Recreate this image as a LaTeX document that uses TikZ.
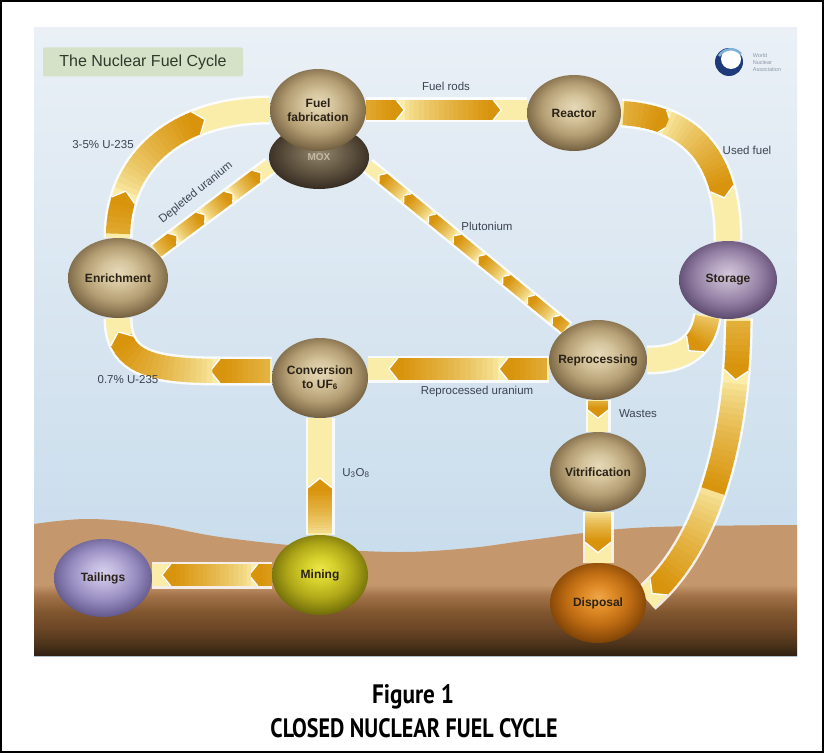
\documentclass[tikz,border=0pt]{standalone}
\usepackage{graphicx}
\usepackage{fontspec}
\setmainfont{Liberation Sans}
\newfontfamily\capfont{PT Sans}
\usetikzlibrary{shapes.geometric,decorations.markings}

\pgfdeclarelayer{scenery}
\pgfdeclarelayer{bands}
\pgfsetlayers{scenery,bands,main}

% ---------- palette ----------
\definecolor{skytop}{HTML}{EAF0F6}
\definecolor{skylow}{HTML}{C3D9EA}
\definecolor{soilA}{HTML}{2E2012}
\definecolor{soilB}{HTML}{4A3219}
\definecolor{soilC}{HTML}{6C4626}
\definecolor{soilD}{HTML}{80562F}
\definecolor{soilE}{HTML}{A27248}
\definecolor{soilF}{HTML}{C4976D}
\definecolor{bandpale}{HTML}{FAEDAA}
\definecolor{banddeep}{HTML}{D8940C}
\definecolor{labelink}{HTML}{3C4352}
\definecolor{nodeink}{HTML}{2A2216}
\definecolor{moxink}{HTML}{C4BAA6}
\definecolor{titlefill}{HTML}{D6E2C8}
\definecolor{titleink}{HTML}{2F3A2C}
\definecolor{logonavy}{HTML}{1E3A78}
\definecolor{logosky}{HTML}{7FB2DA}
\definecolor{logoink}{HTML}{8A98A8}

\definecolor{tanA}{HTML}{E6D9B8}\definecolor{tanB}{HTML}{D5C49C}\definecolor{tanC}{HTML}{B49E74}\definecolor{tanD}{HTML}{806C4A}\definecolor{tanE}{HTML}{5C4C32}
\definecolor{moxA}{HTML}{938670}\definecolor{moxB}{HTML}{796C56}\definecolor{moxC}{HTML}{5A4E3C}\definecolor{moxD}{HTML}{3C3226}\definecolor{moxE}{HTML}{2C241A}
\definecolor{lilA}{HTML}{D4C6DA}\definecolor{lilB}{HTML}{B8A8C4}\definecolor{lilC}{HTML}{927EA2}\definecolor{lilD}{HTML}{665478}\definecolor{lilE}{HTML}{4C3E5C}
\definecolor{lavA}{HTML}{D6D0EE}\definecolor{lavB}{HTML}{BDB4DC}\definecolor{lavC}{HTML}{978CC0}\definecolor{lavD}{HTML}{6C6296}\definecolor{lavE}{HTML}{524A78}
\definecolor{yelA}{HTML}{ECE64A}\definecolor{yelB}{HTML}{D6D02C}\definecolor{yelC}{HTML}{B0A818}\definecolor{yelD}{HTML}{7C780C}\definecolor{yelE}{HTML}{5E5A08}
\definecolor{orgA}{HTML}{F0A648}\definecolor{orgB}{HTML}{DE8A26}\definecolor{orgC}{HTML}{BC6A12}\definecolor{orgD}{HTML}{8A4A08}\definecolor{orgE}{HTML}{6A3806}

% ---------- shadings ----------
\pgfdeclareverticalshading{soil}{100bp}{color(0bp)=(soilA); color(25bp)=(soilA); color(29bp)=(soilB); color(35bp)=(soilC); color(41bp)=(soilD); color(47bp)=(soilE); color(51bp)=(soilF); color(100bp)=(soilF)}

\newcommand\makeorb[6]{\pgfdeclareradialshading{#1}{\pgfpoint{0bp}{4bp}}{color(0bp)=(#2); color(8bp)=(#3); color(17bp)=(#4); color(25bp)=(#5); color(29bp)=(#6); color(50bp)=(#6)}}
\makeorb{tanorb}{tanA}{tanB}{tanC}{tanD}{tanE}
\makeorb{moxorb}{moxA}{moxB}{moxC}{moxD}{moxE}
\makeorb{lilacorb}{lilA}{lilB}{lilC}{lilD}{lilE}
\makeorb{lavorb}{lavA}{lavB}{lavC}{lavD}{lavE}
\makeorb{yelloworb}{yelA}{yelB}{yelC}{yelD}{yelE}
\makeorb{orangeorb}{orgA}{orgB}{orgC}{orgD}{orgE}

% ---------- flow bands ----------
% pointed head of a segment: #1 half width
\newcommand\chevtip[1]{%
  \fill[banddeep] (-0.3,-#1) -- ({0.8*#1},0) -- (-0.3,#1) -- cycle;
  \draw[white, line width=1.3pt, line join=round] (0,-#1) -- ({0.8*#1},0) -- (0,#1);
}
% #1 band width, #2 half width, #3 shaded length, #4 head positions (pt), #5 path
\newcommand\flow[5]{%
  \draw[white, opacity=.85, line width=#1pt+5pt] #5;
  \draw[bandpale, line width=#1pt] #5;
  \foreach \d in {#4}{%
    \foreach \k in {0,...,17}{%
      \pgfmathsetmacro\slpos{\d-#3*(1-\k/18)}%
      \pgfmathtruncatemacro\slpc{100*(((\k+1)/18)^0.7)}%
      \ifdim\slpos pt>0.5pt
        \path[decorate, decoration={markings, mark=at position \slpos pt with {\fill[banddeep!\slpc!bandpale] (-0.6,-#2) -- ({#3/18+0.9},-#2) -- ({#3/18+0.9},#2) -- (-0.6,#2) -- cycle;}}] #5;
      \fi
    }%
    \path[decorate, decoration={markings, mark=at position \d pt with {\chevtip{#2}}}] #5;
  }%
}

\newcommand\orbtext[1]{\makebox[0pt]{#1}}

\tikzset{
  orb/.style={ellipse, inner sep=0pt, shade, shading=#1, font=\fontsize{12}{13.5}\selectfont\bfseries, text=nodeink, align=center},
  lbl/.style={inner sep=0pt, font=\fontsize{11.5}{13}\selectfont, text=labelink},
}

\begin{document}
\begin{tikzpicture}[x=1pt, y=-1pt]
\useasboundingbox (0,0) rectangle (826,754);

% ---------- sky and ground ----------
\begin{pgfonlayer}{scenery}
  \shade[top color=skytop, bottom color=skylow] (34,28) rectangle (797,656);
  \shade[shading=soil] plot[smooth, tension=0.6] coordinates {(34,524) (87,519) (150,524) (220,537) (320,548) (400,552) (470,548) (530,540) (620,529) (700,526) (797,525)} -- (797,656) -- (34,656) -- cycle;
\end{pgfonlayer}

% ---------- title and logo ----------
\node[fill=titlefill, rounded corners=2pt, minimum width=200pt, minimum height=29pt, font=\fontsize{16}{18}\selectfont, text=titleink] (title) at (143,62) {The Nuclear Fuel Cycle};

\fill[logonavy] (729,62) circle (14);
\fill[white] (731,59) circle (10);
\draw[logosky, line width=2.5pt] (719,56) .. controls (724,48) and (735,47) .. (741,54);
\node[inner sep=0pt, align=left, font=\fontsize{5.5}{7}\selectfont, text=logoink] (wna) at (767,63) {World\\Nuclear\\Association};

% ---------- stages ----------
\node[orb=moxorb, minimum width=100pt, minimum height=64pt, text=moxink, font=\fontsize{10}{11}\selectfont\bfseries] (mox) at (319,157) {\orbtext{MOX}};
\node[orb=tanorb, minimum width=96pt, minimum height=82pt] (fab) at (318,110) {\orbtext{Fuel}\\\orbtext{fabrication}};
\node[orb=tanorb, minimum width=94pt, minimum height=76pt] (reactor) at (574,113) {\orbtext{Reactor}};
\node[orb=lilacorb, minimum width=98pt, minimum height=78pt] (storage) at (728,280) {\orbtext{Storage}};
\node[orb=tanorb, minimum width=100pt, minimum height=80pt] (enrich) at (118,278) {\orbtext{Enrichment}};
\node[orb=tanorb, minimum width=96pt, minimum height=80pt] (conv) at (320,378) {\orbtext{Conversion}\\\orbtext{to UF\textsubscript{6}}};
\node[orb=tanorb, minimum width=98pt, minimum height=80pt] (repro) at (598,360) {\orbtext{Reprocessing}};
\node[orb=tanorb, minimum width=96pt, minimum height=80pt] (vitri) at (598,472) {\orbtext{Vitrification}};
\node[orb=orangeorb, minimum width=96pt, minimum height=80pt] (disp) at (598,603) {\orbtext{Disposal}};
\node[orb=yelloworb, minimum width=96pt, minimum height=80pt] (mining) at (320,575) {\orbtext{Mining}};
\node[orb=lavorb, minimum width=98pt, minimum height=78pt] (tail) at (103,578) {\orbtext{Tailings}};

% ---------- material flows ----------
\begin{pgfonlayer}{bands}
  \coordinate (rw) at ([yshift=-9pt]repro.west);
  \coordinate (cw) at ([yshift=7pt]conv.west);
  \flow{20}{10}{88}{30,127}{(fab.east) -- (fab.east -| reactor.west)}
  \flow{24}{12}{100}{38,148}{(enrich.north) .. controls +(0,-75) and +(-95,0) .. (fab.west)}
  \flow{24}{12}{100}{52,160}{(cw) -- ++(-50,0) .. controls +(-70,0) and +(0,45) .. (enrich.south)}
  \flow{14}{7}{29}{21,56,91,126}{(enrich.35) -- (mox.190)}
  \flow{12}{6}{27}{14,46,78,110,142,174,206,238}{(repro.135) -- (mox.-10)}
  \flow{24}{12}{88}{42,136}{(reactor.east) .. controls +(85,5) and +(0,-65) .. (storage.north)}
  \flow{24}{12}{40}{31}{(storage.240) .. controls +(-5,35) and +(30,0) .. (repro.east)}
  \flow{24}{12}{110}{52,176,286}{(storage.285) .. controls +(0,100) and +(70,-60) .. (disp.5)}
  \flow{22}{11}{100}{41,151}{(rw) -- (rw -| conv.east)}
  \flow{20}{10}{20}{10}{(repro.south) -- (vitri.north)}
  \flow{26}{13}{30}{30}{(vitri.south) -- (disp.north)}
  \flow{24}{12}{47}{47}{(mining.north) -- (conv.south)}
  \flow{22}{11}{80}{14,101}{(mining.west) -- (mining.west -| tail.east)}
\end{pgfonlayer}

% ---------- flow labels ----------
\node[lbl] (lrods) at (446,86) {Fuel rods};
\node[lbl] (lused) at (747,150) {Used fuel};
\node[lbl] (lhigh) at (103,145) {3-5\% U-235};
\node[lbl] (llow) at (128,380) {0.7\% U-235};
\node[lbl, rotate=39] (ldep) at (196,193) {Depleted uranium};
\node[lbl] (lpu) at (487,226) {Plutonium};
\node[lbl] (lrepu) at (477,392) {Reprocessed uranium};
\node[lbl] (lwaste) at (638,414) {Wastes};
\node[lbl] (lore) at (356,473) {U\textsubscript{3}O\textsubscript{8}};

% ---------- caption and frame ----------
\node[anchor=base, inner sep=0pt] (fignum) at (413,703) {\resizebox{82pt}{19pt}{\capfont\bfseries Figure 1}};
\node[anchor=base, inner sep=0pt] (figtitle) at (414,737) {\resizebox{287pt}{19pt}{\capfont\bfseries CLOSED NUCLEAR FUEL CYCLE}};
\draw[line width=2pt] (1,1) rectangle (823,752);
\end{tikzpicture}
\end{document}
